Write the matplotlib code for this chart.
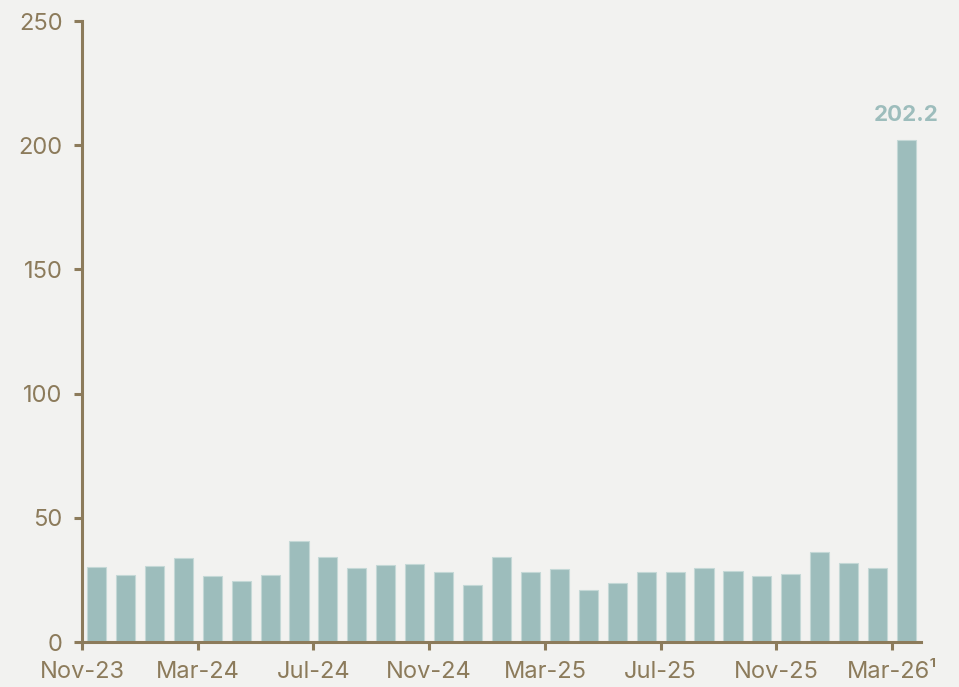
import matplotlib
matplotlib.use("Agg")
import matplotlib.pyplot as plt
import numpy as np

months = ["Nov-23", "Dec-23", "Jan-24", "Feb-24", "Mar-24", "Apr-24", "May-24", "Jun-24",
          "Jul-24", "Aug-24", "Sep-24", "Oct-24", "Nov-24", "Dec-24", "Jan-25", "Feb-25",
          "Mar-25", "Apr-25", "May-25", "Jun-25", "Jul-25", "Aug-25", "Sep-25", "Oct-25",
          "Nov-25", "Dec-25", "Jan-26", "Feb-26", "Mar-26"]
values = [30.3, 26.9, 30.5, 34.0, 26.4, 24.7, 27.1, 40.5, 34.4, 29.9, 31.1, 31.5, 28.3, 23.1,
          34.4, 28.1, 29.5, 20.9, 23.9, 28.3, 28.0, 29.6, 28.4, 26.4, 27.2, 36.3, 32.0, 29.9, 202.2]
tick_labels = ["Nov-23", "Mar-24", "Jul-24", "Nov-24", "Mar-25", "Jul-25", "Nov-25", "Mar-26¹"]

bg = "#f2f2f0"
bar_col = "#9dbdbc"
axis_col = "#8c7b5b"

plt.rcParams['font.family'] = ['Inter', 'DejaVu Sans']

fig = plt.figure(figsize=(9.59, 6.87), dpi=100, facecolor=bg)
ax = fig.add_axes([0.0855, 0.0655, 0.8749, 0.9039])
ax.set_facecolor(bg)

x = np.arange(len(months))
ax.bar(x, values, width=0.66, color=bar_col, edgecolor="#c4d8d6", linewidth=0.8)

ax.text(x[-1], values[-1] + 6, f"{values[-1]:.1f}", ha="center", va="bottom",
        color=bar_col, fontsize=16, fontweight="bold")

ax.set_xlim(-0.5, len(months) - 0.5)
ax.set_ylim(0, 250)
ax.set_yticks([0, 50, 100, 150, 200, 250])
ax.set_xticks(np.arange(-0.5, len(months), 4))
ax.set_xticklabels(tick_labels)

for s in ["top", "right"]:
    ax.spines[s].set_visible(False)
for s in ["left", "bottom"]:
    ax.spines[s].set_color(axis_col)
    ax.spines[s].set_linewidth(2.2)

ax.tick_params(axis="both", colors=axis_col, width=2.2, length=6, labelsize=17, labelcolor=axis_col)
ax.tick_params(axis="y", pad=8)
ax.tick_params(axis="x", pad=8)

fig.savefig("out.png", dpi=100, facecolor=bg)
